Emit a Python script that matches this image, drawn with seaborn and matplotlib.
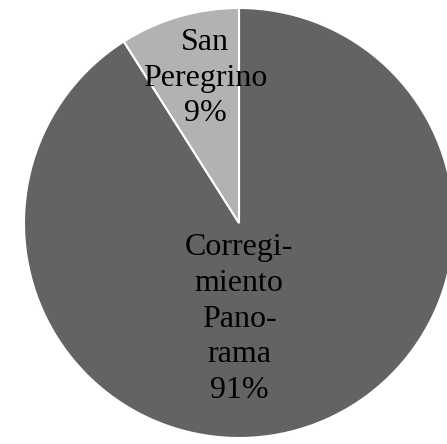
import matplotlib
matplotlib.use('Agg')
import matplotlib.pyplot as plt
import seaborn as sns

# data
labels = ['Corregi-\nmiento\nPano-\nrama', 'San\nPeregrino']
shares = [91, 9]
colors = ['#636363', '#b2b2b2']
# label anchor points in pie units (radius = 1)
label_x = [0.0, -0.158]
label_y = [-0.447, 0.674]

sns.set_theme(style='white')
plt.rcParams['font.family'] = ['Liberation Serif', 'DejaVu Serif']

fig = plt.figure(figsize=(4.47, 4.44), dpi=100)
ax = fig.add_axes([24 / 447, 6 / 444, 430 / 447, 430 / 444])

wedges, _ = ax.pie(shares, colors=colors, startangle=90, counterclock=False,
                   radius=1, wedgeprops=dict(edgecolor='white', linewidth=1.5))
for w in wedges:
    w.set_clip_on(False)

for lab, val, x, y in zip(labels, shares, label_x, label_y):
    ax.text(x, y, f'{lab}\n{val}%', ha='center', va='center',
            fontsize=23, color='black', linespacing=1.3)

ax.set_xlim(-1, 1)
ax.set_ylim(-1, 1)
ax.set_aspect('equal')
ax.axis('off')

fig.savefig('out.png', dpi=100, facecolor='white')
